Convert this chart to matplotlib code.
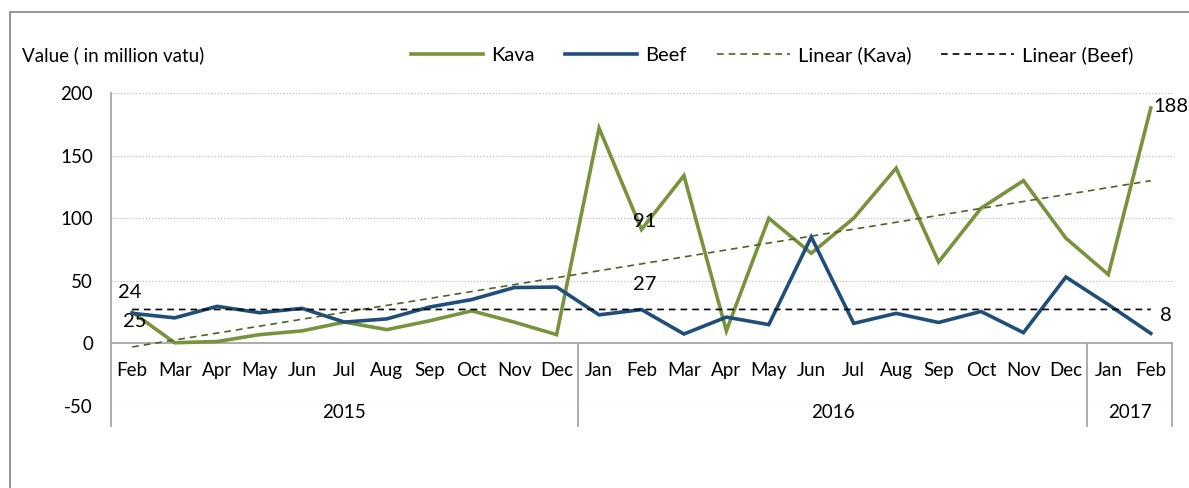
import matplotlib
matplotlib.use('Agg')
import matplotlib.pyplot as plt
import numpy as np
from matplotlib.patches import Rectangle

plt.rcParams['font.family'] = ['Lato', 'DejaVu Sans']
plt.rcParams['axes.unicode_minus'] = False

MONTHS = ['Feb', 'Mar', 'Apr', 'May', 'Jun', 'Jul', 'Aug', 'Sep', 'Oct', 'Nov', 'Dec',
          'Jan', 'Feb', 'Mar', 'Apr', 'May', 'Jun', 'Jul', 'Aug', 'Sep', 'Oct', 'Nov', 'Dec',
          'Jan', 'Feb']
YEARS = ['2015', '2016', '2017']
YEAR_COUNTS = [11, 12, 2]

kava = [25, 0.5, 1.5, 7, 10, 17, 11, 18, 26, 17, 7,
        172, 91, 134, 10, 100, 72, 100, 140, 65, 108, 130, 84,
        55, 188]
beef = [24, 20.4, 29.6, 24.5, 28, 17, 19.6, 29, 35, 44.6, 45,
        22.8, 27, 7.5, 21, 15, 85, 16, 24, 16.7, 25.5, 8.6, 53,
        31, 8]

KAVA_C = '#77933C'
BEEF_C = '#1F4E79'
GRID_C = '#BFBFBF'
AXIS_C = '#A6A6A6'

fig = plt.figure(figsize=(11.89, 4.88), dpi=100)
ax = fig.add_axes([111 / 1189, 1 - 406 / 488, (1172 - 111) / 1189, (406 - 93) / 488])

x = np.arange(len(MONTHS))

# gridlines (0 is the axis itself)
for g in [-50, 50, 100, 150, 200]:
    ax.axhline(g, color=GRID_C, lw=0.9, ls=(0, (1, 1.5)), zorder=0)
ax.axhline(0, color=AXIS_C, lw=1.3, zorder=1)

ax.plot(x, kava, color=KAVA_C, lw=2.6, zorder=3, label='Kava', solid_joinstyle='miter')
ax.plot(x, beef, color=BEEF_C, lw=2.6, zorder=4, label='Beef', solid_joinstyle='miter')

# linear trendlines
kfit = np.polyfit(x, kava, 1)
bfit = np.polyfit(x, beef, 1)
ax.plot(x, np.polyval(kfit, x), color='#4F6228', lw=1.2, ls=(0, (4, 3)), zorder=5,
        label='Linear (Kava)')
ax.plot(x, np.polyval(bfit, x), color='black', lw=1.2, ls=(0, (4, 3)), zorder=5,
        label='Linear (Beef)')

ax.set_xlim(-0.5, len(MONTHS) - 0.5)
ax.set_ylim(-50, 200)
ax.set_yticks([-50, 0, 50, 100, 150, 200])
ax.set_xticks([])
ax.tick_params(axis='y', length=0, pad=13, labelsize=13.5)
for s in ax.spines.values():
    s.set_visible(False)

# left axis line extending into the category box
ax.plot([-0.5, -0.5], [-66, 200], color=AXIS_C, lw=1.3, clip_on=False, zorder=1)

# month labels
for i, m in enumerate(MONTHS):
    ax.text(i, -22, m, ha='center', va='center', fontsize=13.5, clip_on=False)

# year labels and separators
start = -0.5
bounds = [start]
for yr, n in zip(YEARS, YEAR_COUNTS):
    end = start + n
    ax.text((start + end) / 2, -55, yr, ha='center', va='center', fontsize=13.5, clip_on=False)
    bounds.append(end)
    start = end
for b in bounds[1:]:
    ax.plot([b, b], [0, -66], color=AXIS_C, lw=1.3, clip_on=False, zorder=1)

# data labels
ann = dict(textcoords='offset points', fontsize=14.5, va='center')
ax.annotate('24', (0, beef[0]), xytext=(-2, 15), ha='center', **ann)
ax.annotate('25', (0, kava[0]), xytext=(2, -7), ha='center', **ann)
ax.annotate('27', (12, beef[12]), xytext=(2, 18), ha='center', **ann)
ax.annotate('91', (12, kava[12]), xytext=(2, 6), ha='center', **ann)
ax.annotate('188', (24, kava[24]), xytext=(2, 1), ha='left', **ann)
ax.annotate('8', (24, beef[24]), xytext=(11, 13), ha='center', **ann)

fig.text(22 / 1189, 1 - 55 / 488, 'Value ( in million vatu)', ha='left', va='center', fontsize=13.5)

h, l = ax.get_legend_handles_labels()
fig.legend(h, l, loc='center', bbox_to_anchor=(772 / 1189, 1 - 55 / 488), ncol=4,
           frameon=False, fontsize=14.5, handlelength=3.6, handletextpad=0.4,
           columnspacing=1.5)

# outer chart border
fig.patches.append(Rectangle((10 / 1189, -0.1), 1.2, 1 - 12 / 488 + 0.1,
                             transform=fig.transFigure, fill=False,
                             edgecolor='#8C8C8C', lw=1.3))

fig.savefig('out.png', dpi=100)
